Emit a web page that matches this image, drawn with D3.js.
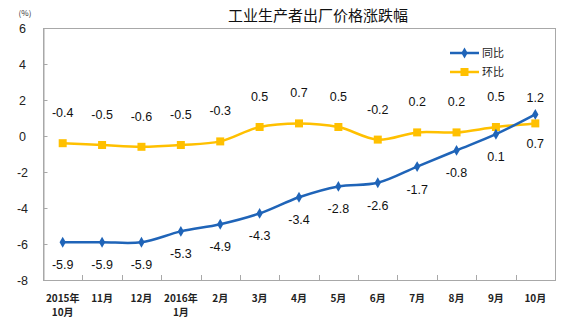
<!DOCTYPE html>
<html><head><meta charset="utf-8">
<script src="https://cdn.jsdelivr.net/npm/d3@7"></script>
<style>
html,body{margin:0;padding:0;background:#fff;}
svg{display:block;}
</style></head>
<body>
<script>
// ---- data ----
const categoriesLine1 = ["2015年","11月","12月","2016年","2月","3月","4月","5月","6月","7月","8月","9月","10月"];
const categoriesLine2 = ["10月","","","1月","","","","","","","","",""];
const yoyValues = [-5.9,-5.9,-5.9,-5.3,-4.9,-4.3,-3.4,-2.8,-2.6,-1.7,-0.8,0.1,1.2];
const momValues = [-0.4,-0.5,-0.6,-0.5,-0.3,0.5,0.7,0.5,-0.2,0.2,0.2,0.5,0.7];
const yTicks = [6,4,2,0,-2,-4,-6,-8];
const seriesNames = ["同比","环比"];
const title = "工业生产者出厂价格涨跌幅";

const W = 580, H = 327;
const m = {left:43, top:28, right:25, bottom:47};
const pw = W - m.left - m.right, ph = H - m.top - m.bottom;
const blue = "#1f64b8", gold = "#ffc000", axisCol = "#a8a8a8";
const font = "Arial, 'Liberation Sans', sans-serif";
const cjk = "'Noto Sans CJK SC', sans-serif";
const fmt1 = d => d.toFixed(1);
const fmt0 = d => String(d);

const svg = d3.select("body").append("svg").attr("width", W).attr("height", H);

const x = d3.scaleBand().domain(d3.range(categoriesLine1.length)).range([m.left, m.left+pw]);
const y = d3.scaleLinear().domain([-8,6]).range([m.top+ph, m.top]);
const cx = i => x(i) + x.bandwidth()/2;

// title
svg.append("text").attr("x", 318).attr("y", 21).attr("text-anchor","middle")
  .attr("font-family", cjk).attr("font-size", 15).attr("fill","#111").text(title);
svg.append("text").attr("x", 25).attr("y", 16).attr("text-anchor","middle")
  .attr("font-family", cjk).attr("font-size", 8).attr("fill","#333").text("(%)");

// plot border
svg.append("rect").attr("x", m.left+0.5).attr("y", m.top+0.5).attr("width", pw).attr("height", ph)
  .attr("fill","none").attr("stroke", axisCol).attr("stroke-width",1);

// y axis
const yAxis = d3.axisLeft(y).tickValues(yTicks).tickSize(-4).tickPadding(12).tickFormat(fmt0);
const gy = svg.append("g").attr("transform", `translate(${m.left+0.5},0)`).call(yAxis);
gy.select(".domain").attr("stroke", axisCol);
gy.selectAll(".tick line").attr("stroke", axisCol);
gy.selectAll(".tick text").attr("font-family", font).attr("font-size", 12.5).attr("fill","#222")
  .attr("text-anchor","middle").attr("x", -21);

// x axis ticks at band boundaries (inside)
const gx = svg.append("g");
gx.selectAll("line").data(d3.range(1, categoriesLine1.length)).join("line")
  .attr("x1", i => Math.round(x(i))+0.5).attr("x2", i => Math.round(x(i))+0.5)
  .attr("y1", m.top+ph).attr("y2", m.top+ph-5).attr("stroke", axisCol);
gx.selectAll("text.l1").data(categoriesLine1).join("text").attr("class","l1")
  .attr("x", (d,i)=>cx(i)).attr("y", 302).attr("text-anchor","middle")
  .attr("font-family", cjk).attr("font-weight","bold").attr("font-size", 10).attr("fill","#222").text(d=>d);
gx.selectAll("text.l2").data(categoriesLine2).join("text").attr("class","l2")
  .attr("x", (d,i)=>cx(i)).attr("y", 316).attr("text-anchor","middle")
  .attr("font-family", cjk).attr("font-weight","bold").attr("font-size", 10).attr("fill","#222").text(d=>d);

// lines
const line = d3.line().x((d,i)=>cx(i)).y(d=>y(d)).curve(d3.curveCatmullRom.alpha(0.5));
svg.append("path").attr("d", line(momValues)).attr("fill","none").attr("stroke", gold).attr("stroke-width", 2.5);
svg.append("path").attr("d", line(yoyValues)).attr("fill","none").attr("stroke", blue).attr("stroke-width", 2.5);

// markers
svg.append("g").selectAll("rect").data(momValues).join("rect")
  .attr("x",(d,i)=>cx(i)-4).attr("y",d=>y(d)-4).attr("width",8).attr("height",8).attr("fill", gold);
const diamond = d3.symbol().type(d3.symbolDiamond).size(34);
svg.append("g").selectAll("path").data(yoyValues).join("path")
  .attr("d", diamond).attr("transform",(d,i)=>`translate(${cx(i)},${y(d)})`).attr("fill", blue);

// data labels
const last = momValues.length - 1;
svg.append("g").selectAll("text").data(momValues).join("text")
  .attr("x",(d,i)=>cx(i)).attr("y",(d,i)=> i===last ? y(d)+25 : y(d)-26)
  .attr("text-anchor","middle").attr("font-family", font).attr("font-size", 12.5).attr("fill","#111")
  .text(fmt1);
svg.append("g").selectAll("text").data(yoyValues).join("text")
  .attr("x",(d,i)=>cx(i)).attr("y",(d,i)=> i===last ? y(d)-12 : y(d)+27)
  .attr("text-anchor","middle").attr("font-family", font).attr("font-size", 12.5).attr("fill","#111")
  .text(fmt1);

// legend
const lg = svg.append("g");
[[blue,"d"],[gold,"s"]].forEach((c,k)=>{
  const yy = 53 + k*19;
  lg.append("line").attr("x1",450).attr("x2",479).attr("y1",yy).attr("y2",yy).attr("stroke",c[0]).attr("stroke-width",2.5);
  if (c[1]==="d") lg.append("path").attr("d", diamond).attr("transform",`translate(464.5,${yy})`).attr("fill",c[0]);
  else lg.append("rect").attr("x",460.5).attr("y",yy-4).attr("width",8).attr("height",8).attr("fill",c[0]);
  lg.append("text").attr("x",482).attr("y",yy+4).attr("font-family",cjk).attr("font-size",11).attr("fill","#222").text(seriesNames[k]);
});
</script>
</body></html>
